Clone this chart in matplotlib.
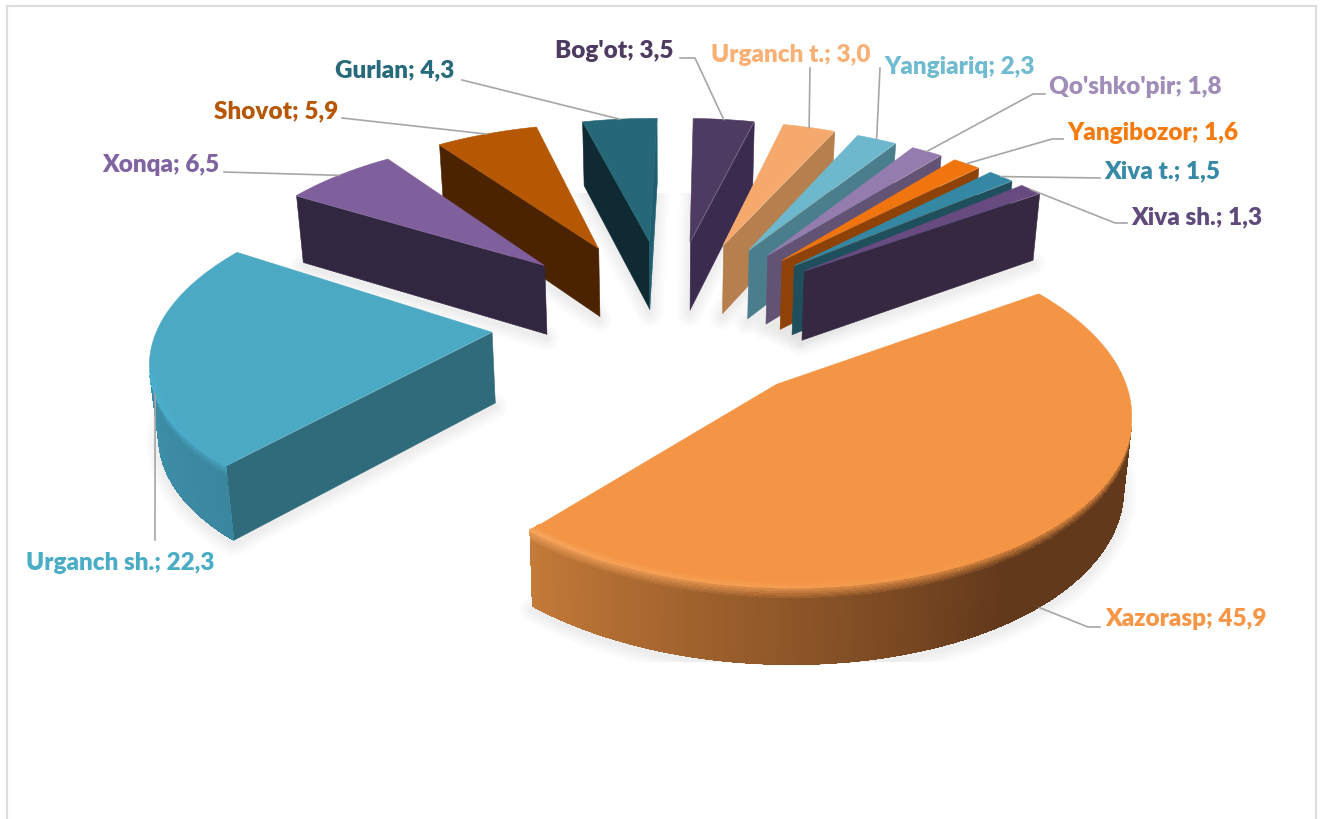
import numpy as np
import matplotlib
matplotlib.use('Agg')
import matplotlib.pyplot as plt
from matplotlib.collections import PolyCollection, LineCollection
from matplotlib.patches import Polygon, Rectangle
from matplotlib.colors import to_rgb

# Chart data, clockwise from the first slice
names = ['Xazorasp', 'Urganch sh.', 'Xonqa', 'Shovot', 'Gurlan', "Bog'ot",
         'Urganch t.', 'Yangiariq', "Qo'shko'pir", 'Yangibozor', 'Xiva t.', 'Xiva sh.']
values = [45.9, 22.3, 6.5, 5.9, 4.3, 3.5, 3.0, 2.3, 1.8, 1.6, 1.5, 1.3]

# Colours
top_colors = ['#F39545', '#4BA9C3', '#80609C', '#B55703', '#266778', '#4E3B62',
              '#F6A96C', '#6DB8CD', '#957CAE', '#F0750F', '#3488A4', '#664A80']
start_face = ['#62391B', '#306B7C', '#322741', '#4C2300', '#0F2A33', '#3B2C4F',
              '#B57F4E', '#4B7E8D', '#625273', '#8E4207', '#1F4E5D', '#352840']
end_face = ['#62391B', '#306B7C', '#322741', '#4C2300', '#1F5F70', '#3B2C4F',
            '#B57F4E', '#4B7E8D', '#625273', '#8E4207', '#1F4E5D', '#352840']
arc_start = ['#62391B', '#3A869F', '#322741', '#4C2300', '#0F2A33', '#3B2C4F',
             '#B57F4E', '#4B7E8D', '#625273', '#8E4207', '#1F4E5D', '#352840']
arc_end = ['#C47A38', '#4499B5', '#322741', '#4C2300', '#0F2A33', '#3B2C4F',
           '#B57F4E', '#4B7E8D', '#625273', '#8E4207', '#1F4E5D', '#352840']
rim_light = ['#F9A862', '#46BFE3', '#80609C', '#B55703', '#266778', '#4E3B62',
             '#F6A96C', '#6DB8CD', '#957CAE', '#F0750F', '#3488A4', '#664A80']
label_colors = ['#F79646', '#4BACC6', '#8064A2', '#B65708', '#276A7C', '#4D3B62',
                '#F9B074', '#71BBD0', '#A08DB8', '#F47B0F', '#378AA6', '#604A7B']

# Explosion of each slice and layout of its label (pixels of the picture)
explode = [0.495] + [0.533] * 11
explode_turn = [2.5] + [0] * 11
slice_nudge = [1.0, 1.0] + [0] * 10
label_x = [1105, 26, 102, 214, 335, 555, 711, 884, 1049, 1067, 1104, 1131]
label_y = [619.5, 562.5, 164.5, 111.5, 70.5, 51.5, 54.5, 67.5, 87.5, 133.5, 171.5, 217.5]
leader_out = [[(1100, 627), (1088, 627)], [(155, 540)], [(224, 172)], [(342, 118)],
              [(462, 80)], [(680, 58), (695, 58)], [(810, 68)], [(880, 68)],
              [(1045, 94), (1033, 94)], [(1063, 139), (1052, 139)], [(1100, 178)],
              [(1127, 223), (1115, 223)]]
leader_z = [1.0, 0.55, 0, 0, 0, 0, 0, 0, 0, 0, 0, 0]

# Projection of the pie plane to the picture
START_ANGLE = 55.2
CX, CY = 668.5, 320.0
RX, RY = 332.0, 158.0
PERSP = 0.13
DEPTH = 70.0
CONVERGE = 0.018


def project(X, Y, z=0.0):
    X = np.asarray(X, dtype=float)
    Y = np.asarray(Y, dtype=float)
    den = 1 + PERSP * Y
    px = CX + RX * X / den
    py = CY - RY * Y / den
    drop = DEPTH / (1 + 0.5 * PERSP * Y)
    return px + (CX - px) * CONVERGE * z, py + drop * z


def is_facing(X1, Y1, X2, Y2):
    x1, y1 = project(X1, Y1)
    x2, y2 = project(X2, Y2)
    x3, y3 = project(X2, Y2, 1)
    x4, y4 = project(X1, Y1, 1)
    xs = [x1, x2, x3, x4]
    ys = [y1, y2, y3, y4]
    return sum(xs[i] * ys[(i + 1) % 4] - xs[(i + 1) % 4] * ys[i] for i in range(4)) < 0


def mix(c1, c2, t):
    return tuple((1 - t) * a + t * b for a, b in zip(to_rgb(c1), to_rgb(c2)))


def wall(X1, Y1, X2, Y2, z1=0.0, z2=1.0):
    return [project(X1, Y1, z1), project(X2, Y2, z1), project(X2, Y2, z2), project(X1, Y1, z2)]


fig = plt.figure(figsize=(13.23, 8.19), dpi=100)
ax = fig.add_axes([0, 0, 1, 1])
ax.set_xlim(0, 1323)
ax.set_ylim(819, 0)
ax.axis('off')

# chart frame
ax.plot([7, 7, 1316, 1316], [819, 6, 6, 819], color='#DDDDDD', lw=1.6, solid_joinstyle='miter')

vals = np.array(values)
spans = vals / vals.sum() * 360
starts = START_ANGLE + np.concatenate([[0], np.cumsum(spans)[:-1]]) + np.array(slice_nudge)

slices = []
for i in range(len(values)):
    mid = starts[i] + spans[i] / 2
    turn = np.radians(mid + explode_turn[i])
    x0 = explode[i] * np.sin(turn)
    y0 = explode[i] * np.cos(turn)
    ang = np.radians(np.linspace(starts[i], starts[i] + spans[i], max(int(spans[i] * 2), 4)))
    slices.append(dict(i=i, mid=mid, x0=x0, y0=y0, ang=ang,
                       ax=x0 + np.sin(ang), ay=y0 + np.cos(ang)))

# soft shadows under the slices
clip = Rectangle((0, 193), 1323, 469, transform=ax.transData)
for s in slices:
    px = np.concatenate([[s['x0']], s['ax']])
    py = np.concatenate([[s['y0']], s['ay']])
    bx, by = project(px, py, 1)
    for w in [26, 21, 16, 12, 8, 4]:
        p = Polygon(np.column_stack([bx, by + 4]), closed=True, facecolor='none',
                    edgecolor='#8C8C8C', alpha=0.024, lw=w * 0.72, joinstyle='round')
        ax.add_patch(p)
        p.set_clip_path(clip)

# far slices first
for s in sorted(slices, key=lambda d: -np.cos(np.radians(d['mid']))):
    i = s['i']
    x0, y0, arx, ary = s['x0'], s['y0'], s['ax'], s['ay']
    faces, face_cols = [], []
    body_p, body_c = [], []
    bevel, bevel_c = [], []
    foot, foot_c = [], []

    if is_facing(x0, y0, arx[0], ary[0]):
        faces.append(wall(x0, y0, arx[0], ary[0]))
        face_cols.append(start_face[i])

    n = len(arx) - 1
    for k in range(n):
        if not is_facing(arx[k], ary[k], arx[k + 1], ary[k + 1]):
            continue
        t = (k + 0.5) / n
        if i == 0:
            # the lit part of the big slice is on its left
            t = np.clip((t - 0.55) / 0.45, 0, 1)
        body = mix(arc_start[i], arc_end[i], t)
        light = mix(top_colors[i], rim_light[i], t)
        q = wall(arx[k], ary[k], arx[k + 1], ary[k + 1])
        body_p.append(q)
        body_c.append(body)
        foot.append([q[3], q[2]])
        foot_c.append(body)
        # bevel along the rim
        zs = [0, 0.03, 0.06, 0.09, 0.12, 0.15, 0.18]
        for j in range(len(zs) - 1):
            bevel.append(wall(arx[k], ary[k], arx[k + 1], ary[k + 1], zs[j], zs[j + 1]))
            bevel_c.append(mix(light, body, (j + 1) / (len(zs) - 1)))

    if is_facing(arx[-1], ary[-1], x0, y0):
        faces.append(wall(arx[-1], ary[-1], x0, y0))
        face_cols.append(end_face[i])

    if faces:
        ax.add_collection(PolyCollection(faces, facecolors=face_cols, edgecolors=face_cols, linewidths=0.4))
    if body_p:
        # no antialiasing inside the gradient, it leaves stripes at the seams
        ax.add_collection(PolyCollection(body_p, facecolors=body_c, edgecolors=body_c,
                                         linewidths=0.5, antialiaseds=False))
        ax.add_collection(PolyCollection(bevel, facecolors=bevel_c, edgecolors=bevel_c,
                                         linewidths=0.5, antialiaseds=False))
        ax.add_collection(LineCollection(foot, colors=foot_c, linewidths=0.9))

    tx, ty = project(np.concatenate([[x0], arx]), np.concatenate([[y0], ary]))
    ax.add_patch(Polygon(np.column_stack([tx, ty]), closed=True, facecolor=top_colors[i],
                         edgecolor=top_colors[i], lw=0.4))

    # thin light strip on the top, just inside the rim
    strip_p, strip_c = [], []
    for k in range(n):
        if not is_facing(arx[k], ary[k], arx[k + 1], ary[k + 1]):
            continue
        t = (k + 0.5) / n
        if i == 0:
            t = np.clip((t - 0.55) / 0.45, 0, 1)
        light = mix(top_colors[i], rim_light[i], t)
        rs = [1.0, 0.992, 0.984, 0.976, 0.968]
        for j in range(4):
            a = project(x0 + rs[j] * np.sin(s['ang'][k]), y0 + rs[j] * np.cos(s['ang'][k]))
            b = project(x0 + rs[j] * np.sin(s['ang'][k + 1]), y0 + rs[j] * np.cos(s['ang'][k + 1]))
            c = project(x0 + rs[j + 1] * np.sin(s['ang'][k + 1]), y0 + rs[j + 1] * np.cos(s['ang'][k + 1]))
            d = project(x0 + rs[j + 1] * np.sin(s['ang'][k]), y0 + rs[j + 1] * np.cos(s['ang'][k]))
            strip_p.append([a, b, c, d])
            strip_c.append(mix(light, top_colors[i], (j + 1) / 4))
    if strip_p:
        ax.add_collection(PolyCollection(strip_p, facecolors=strip_c, edgecolors=strip_c,
                                         linewidths=0.4, antialiaseds=False))

# leader lines and labels
for s in slices:
    i = s['i']
    rad = np.radians(s['mid'])
    lx, ly = project(s['x0'] + np.sin(rad), s['y0'] + np.cos(rad), leader_z[i])
    pts = leader_out[i] + [(float(lx), float(ly))]
    ax.plot([p[0] for p in pts], [p[1] for p in pts], color='#A6A6A6', lw=1.2, zorder=1)
    text = f"{names[i]}; " + f"{values[i]:.1f}".replace('.', ',')
    ax.text(label_x[i], label_y[i], text, color=label_colors[i], fontsize=17.5,
            fontweight='heavy', family='Lato', ha='left', va='center')

fig.savefig('out.png', dpi=100)
